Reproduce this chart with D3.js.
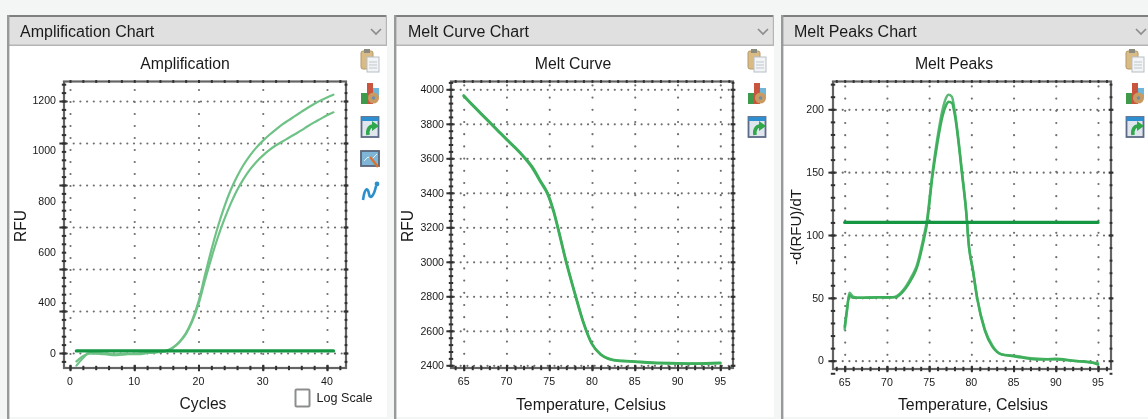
<!DOCTYPE html>
<html>
<head>
<meta charset="utf-8">
<script src="https://cdnjs.cloudflare.com/ajax/libs/d3/7.8.5/d3.min.js"></script>
<style>
html,body{margin:0;padding:0;background:#f4f6f6;overflow:hidden}
svg{display:block;filter:blur(0.45px)}
text{font-family:"Liberation Sans",Arial,sans-serif;fill:#1a1a1a}
</style>
</head>
<body>
<svg id="c" width="1148" height="419"></svg>
<script>
// ---- Amplification
const ampCycles = [1,2,3,4,5,6,7,8,9,10,11,12,13,14,15,16,17,18,19,20,21,22,23,24,25,26,27,28,29,30,31,32,33,34,35,36,37,38,39,40,41];
const ampUpper  = [-60,-25,0,-2,-5,-8,-10,-8,-6,-5,-5,0,2,5,10,25,52,92,155,245,370,490,600,695,775,840,895,940,978,1010,1038,1063,1087,1108,1128,1148,1168,1186,1203,1217,1230];
const ampLower  = [-40,-15,-3,-2,-2,-4,-6,-5,-4,-3,-2,0,2,5,10,25,50,88,148,232,345,452,550,635,710,775,828,873,910,940,966,988,1006,1024,1042,1060,1080,1098,1115,1132,1146];
const ampThreshold = [10,10];
const ampGridY = [0,200,400,600,800,1000,1200];
const ampYLabels = ["0","400","600","800","1000","1200"];
const ampXTicks = [0,10,20,30,40];

// ---- Melt curve
const meltTemps = [65,66,67,68,69,70,71,72,73,74,74.8,75.5,76,77,78,79,80,81,82,83,84,85,87,90,92,95];
const meltA     = [3965,3912,3862,3812,3762,3712,3665,3612,3552,3468,3400,3300,3205,3000,2820,2650,2525,2465,2438,2428,2425,2422,2416,2412,2411,2415];
const meltB     = [3960,3908,3858,3808,3758,3708,3660,3608,3545,3460,3392,3290,3195,2992,2812,2645,2522,2462,2436,2426,2423,2420,2414,2410,2409,2412];
const meltYTicks = [2400,2600,2800,3000,3200,3400,3600,3800,4000];
const tempTicks = [65,70,75,80,85,90,95];

// ---- Melt peaks
const peakTemps = [65,65.25,65.55,66,67,68,69,70,71,71.9,73,73.5,74.4,74.7,75.4,76,76.6,77,77.3,77.7,78,78.9,79.5,79.6,80.2,80.7,81.6,82.5,83.6,85,86,88,90,92,94,95];
const peakA     = [25,38,54,51,50,50.5,50.5,50,51,56,68,75,100,110,150,178,200,209,211.5,210,200,150,110,100,72,50,25,12,5,4,3,1.5,1,0,-1.5,-2];
const peakB     = [27,40,52,50,50,50,50.5,50.5,50.5,55,66,73,97,107,147,174,195,203,206,205,197,148,109,99,71,49,24,11,5,3.5,2.5,1,1.5,0,-1,-3];
const peakThreshold = [110,110];
const peakYTicks = [0,50,100,150,200];

const svg = d3.select("#c");
const greenLine = d3.line().curve(d3.curveMonotoneX);

function panelChrome(p){
  const g = svg.append("g");
  g.append("rect").attr("x",p.left).attr("y",15).attr("width",p.right-p.left).attr("height",402).attr("fill","#fff");
  g.append("rect").attr("x",p.left).attr("y",15).attr("width",p.right-p.left).attr("height",2.5).attr("fill","#7d7f80");
  g.append("rect").attr("x",p.left).attr("y",17).attr("width",p.right-p.left).attr("height",28).attr("fill","#dfe0df");
  g.append("rect").attr("x",p.left).attr("y",44.5).attr("width",p.right-p.left).attr("height",1.5).attr("fill","#b4b6b6");
  g.append("rect").attr("x",p.left).attr("y",15).attr("width",2.4).attr("height",404).attr("fill","#97999a");
  if(p.rightBorder) g.append("rect").attr("x",p.right-1.2).attr("y",15).attr("width",1.2).attr("height",31).attr("fill","#b4b6b6");
  g.append("text").attr("x",p.headX).attr("y",31).attr("dy","0.35em").attr("font-size",16).text(p.head);
  g.append("path").attr("d",`M${p.chev-5},${29} L${p.chev},${34} L${p.chev+5},${29}`).attr("fill","none").attr("stroke","#8c8e8e").attr("stroke-width",1.7);
  g.append("text").attr("x",p.titleX).attr("y",63).attr("dy","0.35em").attr("text-anchor","middle").attr("font-size",15.8).text(p.title);
}

function drawPlot(p){
  const {x,y,fr} = p;
  const g = svg.append("g");
  const W = fr.r-fr.l, H = fr.b-fr.t;
  // dotted grid
  const gx = g.append("g").attr("transform",`translate(0,${fr.b-2})`)
    .call(d3.axisBottom(x).tickValues(p.xTicks).tickSize(-(H-4)).tickFormat(""));
  gx.select(".domain").remove();
  gx.selectAll("line").attr("stroke","#6f6f6f").attr("stroke-width",2.2).attr("stroke-linecap","round").attr("stroke-dasharray","0 "+p.dotV);
  const gy = g.append("g").attr("transform",`translate(${fr.l+3},0)`)
    .call(d3.axisLeft(y).tickValues(p.gridY).tickSize(-(W-6)).tickFormat(""));
  gy.select(".domain").remove();
  gy.selectAll("line").attr("stroke","#6f6f6f").attr("stroke-width",2.2).attr("stroke-linecap","round").attr("stroke-dasharray","0 6.7");
  // marks
  p.series.forEach(s=>{
    const pts = s.xs.map((d,i)=>[x(d),y(s.ys[i])]);
    g.append("path").attr("d",greenLine(pts)).attr("fill","none")
      .attr("stroke",s.color).attr("stroke-width",s.w).attr("stroke-linejoin","round").attr("stroke-linecap","round");
  });
  // frame
  g.append("rect").attr("x",fr.l).attr("y",fr.t).attr("width",W).attr("height",H).attr("fill","none").attr("stroke","#646464").attr("stroke-width",2.2);
  // ticks on all four sides
  const minorX = d3.range(p.xMinor[0],p.xMinor[1]+1e-6,p.xMinor[2]);
  const minorY = d3.range(p.yMinor[0],p.yMinor[1]+1e-6,p.yMinor[2]);
  const tickStyle = (sel,len,shift,vert)=>{
    sel.select(".domain").remove();
    sel.selectAll("text").remove();
    sel.selectAll("line").attr("stroke","#303030").attr("stroke-width",2)
      .attr(vert?"y1":"x1",-len+shift).attr(vert?"y2":"x2",len+shift);
  };
  g.append("g").attr("transform",`translate(0,${fr.t})`).call(d3.axisBottom(x).tickValues(minorX)).call(tickStyle,1.4,0,true);
  g.append("g").attr("transform",`translate(0,${fr.b})`).call(d3.axisBottom(x).tickValues(minorX)).call(tickStyle,2.2,0,true);
  g.append("g").attr("transform",`translate(0,${fr.b})`).call(d3.axisBottom(x).tickValues(p.xTicks)).call(tickStyle,3.2,0,true);
  g.append("g").attr("transform",`translate(${fr.l},0)`).call(d3.axisLeft(y).tickValues(minorY)).call(tickStyle,2.2,0,false);
  g.append("g").attr("transform",`translate(${fr.l},0)`).call(d3.axisLeft(y).tickValues(p.gridY)).call(tickStyle,3.6,-1,false);
  g.append("g").attr("transform",`translate(${fr.r},0)`).call(d3.axisLeft(y).tickValues(minorY)).call(tickStyle,1.4,0,false);
  g.append("g").attr("transform",`translate(${fr.r},0)`).call(d3.axisLeft(y).tickValues(p.gridY)).call(tickStyle,2.4,0,false);
  // tick labels
  g.append("g").selectAll("text").data(p.xTicks).join("text")
    .attr("x",d=>x(d)).attr("y",fr.b+13).attr("dy","0.35em").attr("text-anchor","middle").attr("font-size",10.6).text(d=>d);
  g.append("g").selectAll("text").data(p.yLabels).join("text")
    .attr("x",p.yLabelX).attr("y",d=>p.yLabelScale(d)).attr("dy","0.35em").attr("text-anchor","end").attr("font-size",10.6).text(d=>d);
  // axis titles
  g.append("text").attr("x",p.xTitleX).attr("y",404).attr("dy","0.35em").attr("text-anchor","middle").attr("font-size",p.xTitleSize).text(p.xTitle);
  g.append("text").attr("transform",`translate(${p.yTitleX},${p.yTitleY}) rotate(-90)`).attr("dy","0.35em").attr("text-anchor","middle").attr("font-size",p.yTitleSize).text(p.yTitle);
}

function icons(cx, n){
  const g = svg.append("g");
  const ys = [61,94,127,159,192];
  // clipboard
  let i = g.append("g").attr("transform",`translate(${cx},${ys[0]})`);
  i.append("rect").attr("x",-9).attr("y",-10).attr("width",12).attr("height",18).attr("rx",2).attr("fill","#d9bb86").attr("stroke","#b79a68");
  i.append("rect").attr("x",-6).attr("y",-12).attr("width",6).attr("height",4).attr("fill","#8b8b80");
  i.append("rect").attr("x",-3).attr("y",-4).attr("width",12).attr("height",15).attr("fill","#f2f4f6").attr("stroke","#b7bfc6");
  i.append("path").attr("d","M-1,1H7M-1,4H7M-1,7H7").attr("stroke","#c0c7ce");
  // bars + gear
  i = g.append("g").attr("transform",`translate(${cx},${ys[1]})`);
  i.append("rect").attr("x",-9).attr("y",-1).attr("width",6).attr("height",11).attr("fill","#3f9a4c");
  i.append("rect").attr("x",-3).attr("y",-11).attr("width",6).attr("height",21).attr("fill","#c9553f");
  i.append("rect").attr("x",3).attr("y",-6).attr("width",6).attr("height",10).attr("fill","#6fb7da");
  i.append("circle").attr("cx",3.5).attr("cy",4).attr("r",5.5).attr("fill","#c99b62");
  i.append("circle").attr("cx",3.5).attr("cy",4).attr("r",1.8).attr("fill","#6d8fa8");
  // export window
  i = g.append("g").attr("transform",`translate(${cx},${ys[2]})`);
  i.append("rect").attr("x",-8.5).attr("y",-10).attr("width",17).attr("height",20).attr("fill","#dfe6ee").attr("stroke","#5c6a86").attr("stroke-width",1.8);
  i.append("rect").attr("x",-8.5).attr("y",-10).attr("width",17).attr("height",4).attr("fill","#2e8fd0");
  i.append("path").attr("d","M-2,8 C-3,2 0,-1 3,-1").attr("fill","none").attr("stroke","#2fa74a").attr("stroke-width",3.6);
  i.append("path").attr("d","M2,-6 L9,-1 L2,4 Z").attr("fill","#2fa74a");
  if(n<5) return;
  // chart edit
  i = g.append("g").attr("transform",`translate(${cx},${ys[3]})`);
  i.append("rect").attr("x",-9).attr("y",-8).attr("width",18).attr("height",15).attr("fill","#7fb6d8").attr("stroke","#5a6478").attr("stroke-width",1.8);
  i.append("path").attr("d","M-6,2 L-2,-2 L2,0 L7,-5").attr("fill","none").attr("stroke","#e6f2fa");
  i.append("path").attr("d","M0,-2 L8,8").attr("stroke","#d8732f").attr("stroke-width",2.4);
  // curve
  i = g.append("g").attr("transform",`translate(${cx},${ys[4]})`);
  i.append("path").attr("d","M-7,8 C-5,-6 -2,-4 -1,2 C0,8 4,4 6,-6").attr("fill","none").attr("stroke","#2b8fc9").attr("stroke-width",2.6);
  i.append("circle").attr("cx",7).attr("cy",-8).attr("r",2.4).attr("fill","#2b8fc9");
}

// --- panels
panelChrome({left:7,right:387,rightBorder:true,head:"Amplification Chart",headX:20,chev:376,title:"Amplification",titleX:185});
panelChrome({left:394,right:774,rightBorder:true,head:"Melt Curve Chart",headX:408,chev:763,title:"Melt Curve",titleX:573});
panelChrome({left:781,right:1148,rightBorder:false,head:"Melt Peaks Chart",headX:794,chev:1141,title:"Melt Peaks",titleX:954});

const lightG="#6fc286", midG="#3dae5a", darkG="#159643";

const ampX = d3.scaleLinear().domain([0,40]).range([70,327]);
const ampY = d3.scaleLinear().domain([0,1200]).range([353,101]);
drawPlot({x:ampX,y:ampY,fr:{l:64,r:346,t:81.5,b:368},xTicks:ampXTicks,gridY:ampGridY,dotV:12,
  xMinor:[0,42,2],yMinor:[-40,1280,40],
  yLabels:ampYLabels,yLabelX:56,yLabelScale:d3.scalePoint().domain(ampYLabels).range([353,100]),
  xTitle:"Cycles",xTitleX:203,xTitleSize:15.6,yTitle:"RFU",yTitleX:21,yTitleY:226,yTitleSize:15.6,
  series:[
    {xs:ampCycles,ys:ampUpper,color:lightG,w:2.2},
    {xs:ampCycles,ys:ampLower,color:lightG,w:2.2},
    {xs:[ampCycles[0],ampCycles[40]],ys:ampThreshold,color:darkG,w:3.4}
  ]});

const meltX = d3.scaleLinear().domain([65,95]).range([463.7,720.3]);
const meltY = d3.scaleLinear().domain([2400,4000]).range([365.3,89.3]);
drawPlot({x:meltX,y:meltY,fr:{l:451,r:733,t:81.5,b:368},xTicks:tempTicks,gridY:meltYTicks,dotV:12.2,
  xMinor:[64,96,1],yMinor:[2400,4040,40],
  yLabels:meltYTicks,yLabelX:444,yLabelScale:meltY,
  xTitle:"Temperature, Celsius",xTitleX:591,xTitleSize:15.9,yTitle:"RFU",yTitleX:408,yTitleY:226,yTitleSize:15.6,
  series:[
    {xs:meltTemps,ys:meltA,color:midG,w:2.5},
    {xs:meltTemps,ys:meltB,color:midG,w:2.5}
  ]});

const peakX = d3.scaleLinear().domain([65,95]).range([844.7,1098]);
const peakY = d3.scaleLinear().domain([0,200]).range([360.7,109.3]);
drawPlot({x:peakX,y:peakY,fr:{l:833,r:1111,t:81.5,b:369},xTicks:tempTicks,gridY:peakYTicks,dotV:12.2,
  xMinor:[64,96,1],yMinor:[-10,220,10],
  yLabels:peakYTicks,yLabelX:824,yLabelScale:peakY,
  xTitle:"Temperature, Celsius",xTitleX:973,xTitleSize:15.9,yTitle:"-d(RFU)/dT",yTitleX:796,yTitleY:227,yTitleSize:15,
  series:[
    {xs:peakTemps,ys:peakA,color:"#5cba76",w:2.5},
    {xs:peakTemps,ys:peakB,color:midG,w:2.5},
    {xs:[65,95],ys:peakThreshold,color:darkG,w:3.2}
  ]});

// log scale checkbox
svg.append("rect").attr("x",295.5).attr("y",389.5).attr("width",14).attr("height",17).attr("rx",1).attr("fill","#fff").attr("stroke","#8c8d8d").attr("stroke-width",2);
svg.append("text").attr("x",316.5).attr("y",397.5).attr("dy","0.35em").attr("font-size",12.6).text("Log Scale");

icons(370,5); icons(757,3); icons(1135,3);
</script>
</body>
</html>
